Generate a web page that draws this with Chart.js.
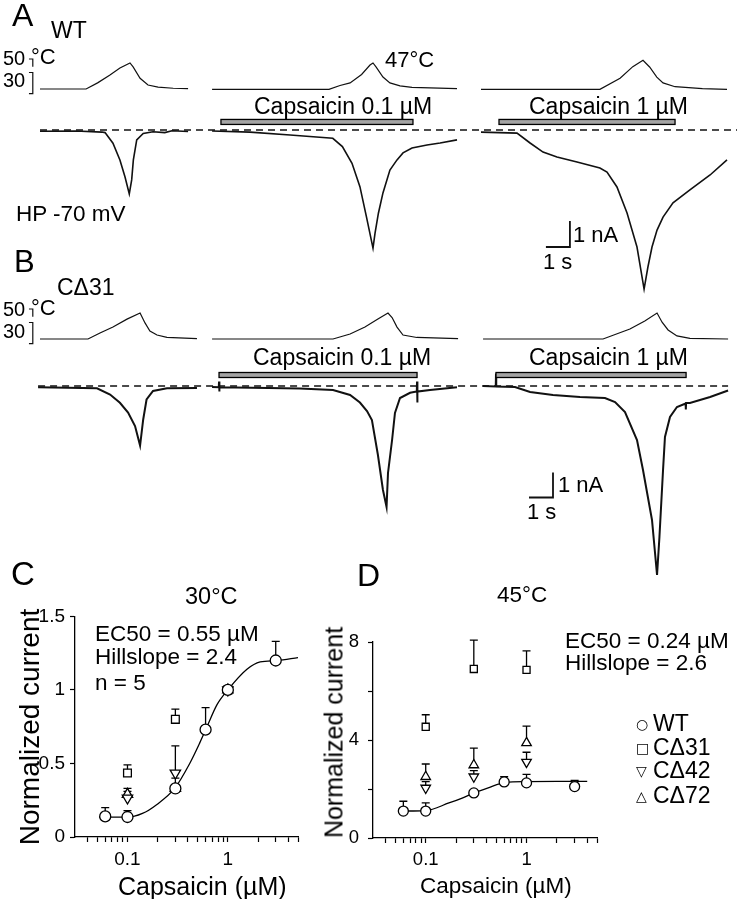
<!DOCTYPE html>
<html>
<head>
<meta charset="utf-8">
<script src="https://cdn.jsdelivr.net/npm/chart.js@4.4.0/dist/chart.umd.min.js"></script>
<style>
  html, body { margin: 0; padding: 0; background: #fff; overflow: hidden; }
  #fig { position: relative; width: 739px; height: 899px; font-family: 'Liberation Sans', Arial, sans-serif; color: #000; }
  #fig canvas { position: absolute; }
  .t { position: absolute; white-space: nowrap; line-height: 1; }
</style>
</head>
<body>
<div id="fig">
  <canvas id="rowA" width="739" height="300" style="left:0;top:0"></canvas>
  <canvas id="rowB" width="739" height="300" style="left:0;top:290px"></canvas>
  <canvas id="doseC" width="320" height="299" style="left:0;top:600px"></canvas>
  <canvas id="doseD" width="290" height="299" style="left:322px;top:600px"></canvas>
</div>
<script>
// ---------- A / B: sweeps as [time (s), value] ----------
// temperature in °C, current in nA (0 = dashed baseline)
const aTemp1 = [[0,30],[1.92,30],[2.4,34],[2.9,39],[3.33,43.7],[3.75,47],[3.88,44.4],[4.17,37],[4.5,32.6],[4.92,31.2],[5.55,30.5],[6.17,30.2]];
const aTemp2 = [[7.17,29.8],[12.04,29.8],[12.5,32.3],[12.92,34],[13.4,39.5],[13.75,45.7],[13.875,47],[14.0,44.4],[14.29,37.8],[14.58,34],[15.0,32],[15.5,31],[17.375,30.2]];
const aTemp3 = [[18.375,29.8],[23.33,29.8],[24.17,37],[24.7,44.6],[25.125,48.8],[25.4,44.4],[25.7,37.8],[25.96,34],[26.46,31.5],[27.6,30.2],[28.625,29.8]];
const aCur1 = [[0,-0.05],[1.5,-0.04],[2.58,-0.08],[2.71,-0.1],[3.04,-0.51],[3.33,-1.15],[3.54,-1.8],[3.72,-2.46],[3.82,-1.92],[3.89,-1.15],[4.03,-0.38],[4.3,-0.13],[4.71,-0.07],[5.2,-0.1],[5.5,-0.03],[6.17,-0.06]];
const aCur2 = [[7.17,-0.04],[8.75,-0.08],[10.42,-0.19],[12.2,-0.32],[12.6,-0.64],[13.0,-1.28],[13.33,-2.18],[13.6,-3.33],[13.875,-4.54],[13.96,-3.97],[14.1,-3.2],[14.29,-2.42],[14.58,-1.54],[14.875,-1.15],[15.125,-0.88],[15.5,-0.69],[16.125,-0.58],[16.67,-0.5],[17.375,-0.38]];
const aCur3 = [[18.375,-0.08],[19.875,-0.12],[20.42,-0.5],[20.96,-0.85],[21.54,-1.04],[22.375,-1.23],[23.33,-1.46],[23.625,-1.62],[24.04,-2.19],[24.46,-3.19],[24.875,-4.5],[25.17,-6.12],[25.33,-5.27],[25.5,-4.5],[25.71,-3.85],[25.96,-3.35],[26.375,-2.8],[27.08,-2.3],[27.92,-1.73],[28.625,-1.15]];

const bTemp1 = [[0,30],[2.0,30],[2.5,33.9],[3.04,37.8],[3.625,43],[4.17,47],[4.375,40.5],[4.58,35.2],[4.875,32.6],[5.29,31.1],[6.54,30.2]];
const bTemp2 = [[7.17,30],[12.21,30],[12.92,33.3],[13.54,37.8],[14.08,43],[14.5,47],[14.67,44],[14.875,37.8],[15.125,32.6],[15.7,31],[17.42,30.2]];
const bTemp3 = [[18.46,30],[23.46,30],[24.58,36.5],[25.2,41.8],[25.71,47],[25.92,41],[26.17,35.9],[26.54,32],[27.08,30.4],[28.67,30]];
const bCur1 = [[-0.08,-0.05],[2.375,-0.09],[2.92,-0.34],[3.33,-0.67],[3.67,-1.06],[3.96,-1.6],[4.17,-2.38],[4.3,-1.34],[4.44,-0.54],[4.71,-0.2],[5.29,-0.09],[6.54,-0.08]];
const bCur2 = [[7.17,-0.04],[7.45,-0.05],[7.46,0.18],[7.47,-0.22],[7.48,-0.05],[9.5,-0.08],[10.83,-0.1],[12.21,-0.16],[12.92,-0.36],[13.33,-0.66],[13.625,-1.0],[13.83,-1.36],[14.08,-2.76],[14.29,-4.16],[14.44,-4.84],[14.5,-3.48],[14.67,-2.16],[14.79,-1.08],[15.0,-0.48],[15.42,-0.27],[15.7,-0.22],[15.71,0.18],[15.72,-0.66],[15.73,-0.22],[16.25,-0.16],[17.375,-0.05]];
const bCur3 = [[18.46,0],[18.99,-0.02],[19.0,0.5],[19.01,-0.02],[19.79,-0.04],[20.42,-0.24],[21.375,-0.36],[22.5,-0.44],[23.54,-0.48],[23.96,-0.64],[24.375,-1.04],[24.875,-2.16],[25.125,-3.36],[25.5,-5.36],[25.71,-7.56],[25.81,-6.04],[25.96,-3.36],[26.04,-2.04],[26.25,-1.24],[26.54,-0.84],[26.9,-0.7],[26.91,-0.94],[26.92,-0.68],[27.08,-0.68],[27.92,-0.44],[28.67,-0.18]];

// capsaicin application [start, end] in s
const aCapsaicin = [[7.54, 15.54], [19.125, 26.46]];
const bCapsaicin = [[7.46, 15.71], [19.0, 26.92]];
// baselines, 1 s / 1 nA scale bars, 30-50 °C bracket
const aBaseline = [[0,0],[29.04,0]];
const bBaseline = [[-0.08,0],[28.67,0]];
const aScaleBar = [[21.08,-4.5],[22.08,-4.5],[22.08,-3.5]];
const bScaleBar = [[20.375,-4.46],[21.375,-4.46],[21.375,-3.46]];
const tempBracketTop = [[-0.46,49.6],[-0.3,49.6],[-0.3,44.6]];
const tempBracketLow = [[-0.46,40.8],[-0.3,40.8],[-0.3,27],[-0.46,27]];

// ---------- C / D: normalized current vs capsaicin (µM) ----------
const wtDoses = [0.06, 0.1, 0.3, 0.6, 1, 3];
const mutDoses = [0.1, 0.3, 1];
const wt30 = [0.14, 0.136, 0.33, 0.73, 1.0, 1.2];
const wt30Err = [0.2, 0.18, null, 0.88, null, 1.33];
const d31at30 = [0.435, 0.8, 1.0];
const d31at30Err = [0.49, 0.87, null];
const d42at30 = [0.265, 0.435, 1.0];
const d42at30Err = [0.33, 0.62, null];
const d72at30 = [0.29, 0.33, 1.0];
const d72at30Err = [0.31, 0.4, null];
const fitDoses30 = [0.052, 0.1, 0.141, 0.195, 0.295, 0.417, 0.525, 0.62, 0.78, 1, 1.55, 2.1, 3.1, 5];
const fit30 = [0.136, 0.135, 0.16, 0.22, 0.33, 0.5, 0.64, 0.75, 0.9, 1.0, 1.14, 1.19, 1.2, 1.22];

const wt45 = [1.1, 1.1, 1.84, 2.29, 2.25, 2.1];
const wt45Err = [1.5, 1.43, null, 2.5, 2.6, 2.35];
const d31at45 = [4.54, 6.9, 6.86];
const d31at45Err = [5.03, 8.08, 7.64];
const d42at45 = [2.04, 2.5, 3.1];
const d42at45Err = [2.3, 2.75, 3.5];
const d72at45 = [2.5, 2.98, 3.88];
const d72at45Err = [3.02, 3.67, 4.57];
const fitDoses45 = [0.06, 0.1, 0.17, 0.23, 0.3, 0.41, 0.62, 1, 2, 4];
const fit45 = [1.1, 1.12, 1.43, 1.63, 1.84, 2.04, 2.27, 2.3, 2.31, 2.31];

const doseTicks = [0.04,0.05,0.06,0.07,0.08,0.09,0.1,0.2,0.3,0.4,0.5,0.6,0.7,0.8,0.9,1,2,3,4,5];
const doseTickLabels = { 0.1: '0.1', 1: '1' };

Chart.defaults.font.family = "'Liberation Sans', Arial, sans-serif";
Chart.defaults.font.size = 19;
Chart.defaults.color = '#000';

const pairs = arr => arr.map(([x, y]) => ({ x, y }));
const pts = (xs, ys) => xs.map((x, i) => ({ x, y: ys[i] }));

// gray capsaicin bar, outlined in black
const capsaicinBars = {
  id: 'capsaicinBars',
  afterDatasetsDraw(chart, args, opts) {
    const { ctx, scales } = chart;
    const yc = scales.cur.getPixelForValue(opts.level);
    ctx.save();
    opts.spans.forEach(([t0, t1]) => {
      const x0 = scales.x.getPixelForValue(t0);
      const x1 = scales.x.getPixelForValue(t1);
      ctx.fillStyle = '#a4a4a4';
      ctx.fillRect(x0, yc - 2.5, x1 - x0, 5);
      ctx.strokeStyle = '#000';
      ctx.lineWidth = 1.3;
      ctx.strokeRect(x0, yc - 2.5, x1 - x0, 5);
    });
    ctx.restore();
  }
};

// upper error bars only, with a cap
const errorBars = {
  id: 'errorBars',
  beforeDatasetsDraw(chart) {
    const ctx = chart.ctx;
    const y = chart.scales.y;
    chart.data.datasets.forEach((ds, i) => {
      if (!ds.errTop) return;
      chart.getDatasetMeta(i).data.forEach((p, j) => {
        const top = ds.errTop[j];
        if (top == null) return;
        const yt = y.getPixelForValue(top);
        ctx.save();
        ctx.strokeStyle = '#000';
        ctx.lineWidth = 1.3;
        ctx.beginPath();
        ctx.moveTo(p.x, p.y);
        ctx.lineTo(p.x, yt);
        ctx.moveTo(p.x - 4, yt);
        ctx.lineTo(p.x + 4, yt);
        ctx.stroke();
        ctx.restore();
      });
    });
  }
};

function line(data, yAxisID, width, extra) {
  return Object.assign({
    data: pairs(data), xAxisID: 'x', yAxisID, showLine: true, pointRadius: 0,
    borderColor: '#111', borderWidth: width, tension: 0, fill: false
  }, extra || {});
}

function traceChart(id, L, bars, barLevel, datasets) {
  return new Chart(document.getElementById(id), {
    type: 'scatter',
    data: { datasets },
    plugins: [capsaicinBars],
    options: {
      responsive: false, animation: false, events: [],
      layout: { padding: 0 },
      plugins: {
        legend: { display: false }, tooltip: { enabled: false },
        capsaicinBars: { spans: bars, level: barLevel }
      },
      scales: {
        x: { type: 'linear', display: false, min: -L.t0X / L.sec, max: (739 - L.t0X) / L.sec },
        cur: { axis: 'y', type: 'linear', display: false, min: -(L.height - L.zeroY) / L.nA, max: L.zeroY / L.nA },
        temp: { axis: 'y', type: 'linear', display: false, min: 30 - (L.height - L.tempY) / L.deg, max: 30 + L.tempY / L.deg }
      }
    }
  });
}

traceChart('rowA', { height: 300, t0X: 40, sec: 24, zeroY: 130, nA: 26, tempY: 89, deg: 1.53 }, aCapsaicin, 0.31, [
  line(aTemp1, 'temp', 1.2), line(aTemp2, 'temp', 1.2), line(aTemp3, 'temp', 1.2),
  line(tempBracketTop, 'temp', 1.2), line(tempBracketLow, 'temp', 1.2),
  line(aCur1, 'cur', 1.6), line(aCur2, 'cur', 1.6), line(aCur3, 'cur', 1.6),
  line(aBaseline, 'cur', 1.3, { borderDash: [7, 5] }),
  line(aScaleBar, 'cur', 1.8)
]);

traceChart('rowB', { height: 300, t0X: 40, sec: 24, zeroY: 96, nA: 25, tempY: 49, deg: 1.53 }, bCapsaicin, 0.44, [
  line(bTemp1, 'temp', 1.2), line(bTemp2, 'temp', 1.2), line(bTemp3, 'temp', 1.2),
  line(tempBracketTop, 'temp', 1.2), line(tempBracketLow, 'temp', 1.2),
  line(bCur1, 'cur', 2), line(bCur2, 'cur', 2), line(bCur3, 'cur', 2),
  line(bBaseline, 'cur', 1.3, { borderDash: [7, 5] }),
  line(bScaleBar, 'cur', 1.8)
]);

function marker(xs, ys, err, style, radius, rotation, order) {
  return {
    data: pts(xs, ys), errTop: err, pointStyle: style, rotation: rotation || 0,
    pointRadius: radius, pointBackgroundColor: '#fff', pointBorderColor: '#000',
    pointBorderWidth: 1.3, showLine: false, order
  };
}

function doseChart(id, c) {
  const tickFont = { family: "'Liberation Sans', Arial, sans-serif", size: c.tickSize };
  return new Chart(document.getElementById(id), {
    type: 'scatter',
    data: {
      datasets: [
        marker(wtDoses, c.wt, c.wtErr, 'circle', c.r, 0, 1),
        marker(mutDoses, c.d31, c.d31Err, 'rect', c.r, 0, 2),
        marker(mutDoses, c.d42, c.d42Err, 'triangle', c.r + 0.5, 180, 3),
        marker(mutDoses, c.d72, c.d72Err, 'triangle', c.r + 0.5, 0, 4),
        { data: pts(c.fitX, c.fitY), showLine: true, pointRadius: 0, borderColor: '#000',
          borderWidth: 1.3, cubicInterpolationMode: 'monotone', order: 10 }
      ]
    },
    plugins: [errorBars],
    options: {
      responsive: false, animation: false, events: [],
      font: tickFont,
      layout: { padding: { top: c.padTop, right: c.padRight, left: 0, bottom: 0 } },
      plugins: { legend: { display: false }, tooltip: { enabled: false } },
      scales: {
        x: {
          type: 'logarithmic', min: 0.03, max: 5,
          afterBuildTicks: s => { s.ticks = doseTicks.map(v => ({ value: v })); },
          afterFit: s => { s.height = c.xHeight; },
          ticks: { autoSkip: false, maxRotation: 0, padding: c.xPad, font: tickFont, color: '#000',
                   callback: v => doseTickLabels[v] || '' },
          grid: { drawOnChartArea: false, color: '#000', tickLength: 5, tickWidth: 1.2 },
          border: { color: '#000', width: 1.3 }
        },
        y: {
          min: 0, max: c.yMax,
          afterFit: s => { s.width = c.yWidth; },
          ticks: { stepSize: c.yStep, padding: c.yPad, font: tickFont, color: '#000',
                   callback: v => (v % c.yLabelEvery === 0 ? String(v) : '') },
          grid: { drawOnChartArea: false, color: '#000', tickLength: 5, tickWidth: 1.2 },
          border: { color: '#000', width: 1.3 }
        }
      }
    }
  });
}

doseChart('doseC', {
  wt: wt30, wtErr: wt30Err, d31: d31at30, d31Err: d31at30Err, d42: d42at30, d42Err: d42at30Err,
  d72: d72at30, d72Err: d72at30Err, fitX: fitDoses30, fitY: fit30,
  r: 5.5, yMax: 1.5, yStep: 0.5, yLabelEvery: 0.5, tickSize: 19,
  padTop: 16, padRight: 22, yWidth: 75, xHeight: 62, xPad: 6, yPad: 5
});

doseChart('doseD', {
  wt: wt45, wtErr: wt45Err, d31: d31at45, d31Err: d31at45Err, d42: d42at45, d42Err: d42at45Err,
  d72: d72at45, d72Err: d72at45Err, fitX: fitDoses45, fitY: fit45,
  r: 5, yMax: 8, yStep: 1, yLabelEvery: 4, tickSize: 18.5,
  padTop: 42, padRight: 15, yWidth: 51, xHeight: 61, xPad: 6, yPad: 9
});

// ---------- text ----------
const fig = document.getElementById('fig');
function label(text, x, baseline, size, extra) {
  const d = document.createElement('div');
  d.className = 't';
  d.textContent = text;
  d.style.left = x + 'px';
  d.style.top = (baseline - 0.8465 * size) + 'px';
  d.style.fontSize = size + 'px';
  if (extra) Object.assign(d.style, extra);
  fig.appendChild(d);
  return d;
}
function vlabel(text, cx, cy, size) {
  const d = document.createElement('div');
  d.className = 't';
  d.textContent = text;
  d.style.fontSize = size + 'px';
  d.style.width = '300px';
  d.style.textAlign = 'center';
  d.style.left = (cx - 150) + 'px';
  d.style.top = (cy - size / 2) + 'px';
  d.style.transform = 'rotate(-90deg)';
  fig.appendChild(d);
}

label('A', 12, 26, 32);
label('WT', 51, 38, 23);
label('50', 3, 65, 20);
label('°C', 31, 65, 22);
label('30', 3, 87, 20);
label('47°C', 385, 68, 22);
label('Capsaicin 0.1 µM', 254, 114, 23);
label('Capsaicin 1 µM', 529, 114, 23);
label('HP -70 mV', 16, 222, 22.5);
label('1 nA', 573, 243, 22);
label('1 s', 543, 270, 22);

label('B', 14, 272, 31);
label('CΔ31', 57, 295, 23);
label('50', 3, 316, 20);
label('°C', 31, 316, 22);
label('30', 3, 338, 20);
label('Capsaicin 0.1 µM', 253, 365, 23);
label('Capsaicin 1 µM', 529, 365, 23);
label('1 nA', 558, 493, 22);
label('1 s', 527, 520, 22);

label('C', 11, 585, 33);
label('30°C', 185, 605, 23.5);
label('EC50 = 0.55 µM', 95, 642, 22.5);
label('Hillslope = 2.4', 95, 665, 22.5);
label('n = 5', 95, 691, 22.5);
vlabel('Normalized current', 30, 727, 28);
label('Capsaicin (µM)', 118, 895, 25);

label('D', 357, 586, 32);
label('45°C', 497, 603, 22.5);
label('EC50 = 0.24 µM', 565, 649, 22.5);
label('Hillslope = 2.6', 565, 671, 22.5);
vlabel('Normalized current', 334, 732, 25);
label('Capsaicin (µM)', 420, 894, 22.5);

const legendRows = [['○', 'WT', 731], ['□', 'CΔ31', 755], ['▽', 'CΔ42', 778], ['△', 'CΔ72', 803]];
legendRows.forEach(([sym, name, base]) => {
  label(sym, 636, base - 2, 14, { fontFamily: "'DejaVu Sans', sans-serif" });
  label(name, 653, base, 23);
});
</script>
</body>
</html>
